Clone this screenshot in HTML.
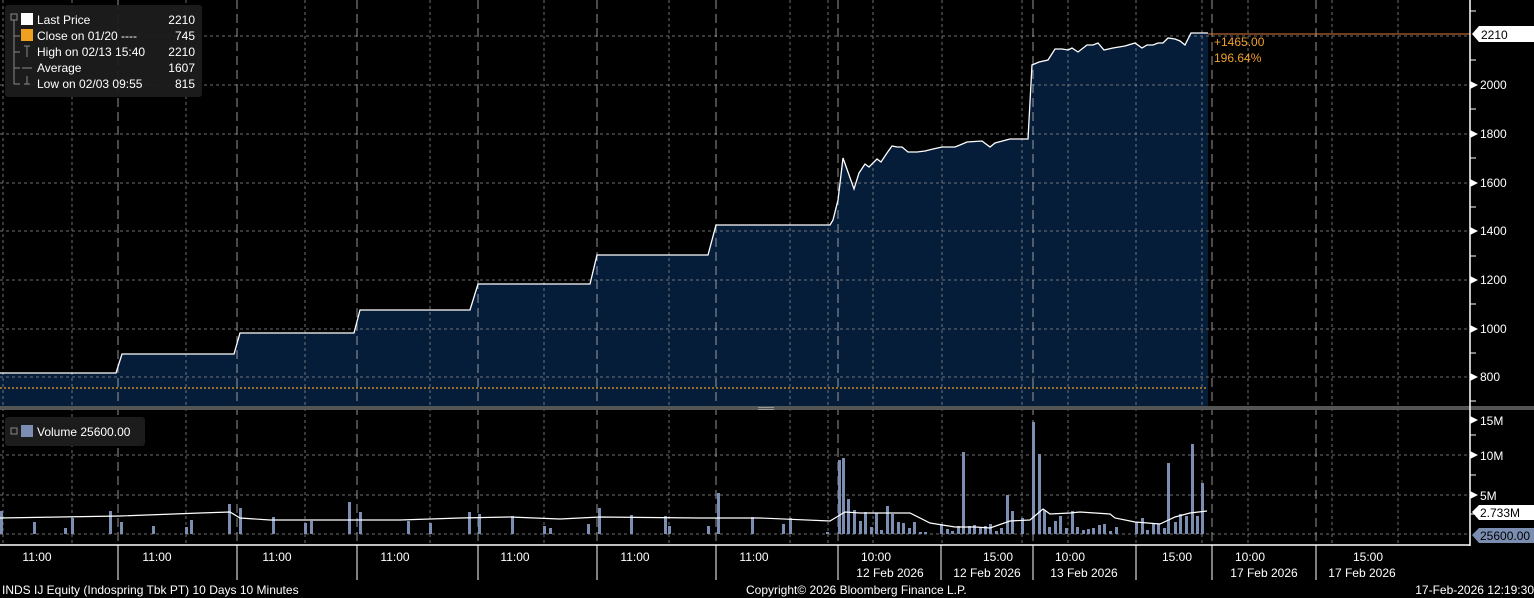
<!DOCTYPE html>
<html><head><meta charset="utf-8"><style>
html,body{margin:0;padding:0;background:#000;}
svg{display:block;font-family:"Liberation Sans",sans-serif;}
</style></head><body>
<svg width="1534" height="598" viewBox="0 0 1534 598" xmlns="http://www.w3.org/2000/svg">
<rect width="1534" height="598" fill="#000"/>
<!-- price fill -->
<path d="M0,373 L116,373 L122,354 L234,354 L240,333 L354,333 L360,310 L470,310 L478,284 L590,284 L597,255 L708,255 L716,225 L830,225 L833,220 L838,200 L843,158 L854,189 L859,173 L865,164 L869,167 L877,159 L881,162 L887,153 L892,146 L897,147 L902,147 L908,152 L917,152 L925,151 L933,149 L942,147 L955,147 L960,145 L967,142 L982,141 L990,147 L995,143 L1010,139 L1028,139 L1032,65 L1039,62 L1048,60 L1055,49 L1062,49 L1068,50 L1072,48 L1078,52 L1087,45 L1093,45 L1098,43 L1104,50 L1113,48 L1125,46 L1135,43 L1142,48 L1147,45 L1153,45 L1158,43 L1163,43 L1168,38 L1175,39 L1180,41 L1185,45 L1191,33 L1208,33 L1208,406 L0,406 Z" fill="#061d3a"/>
<!-- horizontal grid price -->
<g stroke="#8a8a8a" stroke-width="1" stroke-dasharray="3,3" opacity="0.8">
<line x1="0" y1="36" x2="1470" y2="36"/><line x1="0" y1="85" x2="1470" y2="85"/>
<line x1="0" y1="134" x2="1470" y2="134"/><line x1="0" y1="183" x2="1470" y2="183"/>
<line x1="0" y1="231" x2="1470" y2="231"/><line x1="0" y1="280" x2="1470" y2="280"/>
<line x1="0" y1="329" x2="1470" y2="329"/><line x1="0" y1="377" x2="1470" y2="377"/>
<line x1="0" y1="455" x2="1470" y2="455"/><line x1="0" y1="495" x2="1470" y2="495"/>
<line x1="0" y1="534" x2="1470" y2="534"/>
</g>
<!-- vertical grid -->
<g stroke="#8a8a8a" stroke-width="1" stroke-dasharray="3,3" opacity="0.8">
<line x1="3" y1="0" x2="3" y2="545"/><line x1="72" y1="0" x2="72" y2="545"/><line x1="186" y1="0" x2="186" y2="545"/>
<line x1="305" y1="0" x2="305" y2="545"/><line x1="430" y1="0" x2="430" y2="545"/><line x1="544" y1="0" x2="544" y2="545"/>
<line x1="669" y1="0" x2="669" y2="545"/><line x1="790" y1="0" x2="790" y2="545"/><line x1="828" y1="0" x2="828" y2="545"/>
<line x1="873" y1="0" x2="873" y2="545"/><line x1="942" y1="0" x2="942" y2="545"/><line x1="1022" y1="0" x2="1022" y2="545"/>
<line x1="1068" y1="0" x2="1068" y2="545"/><line x1="1136" y1="0" x2="1136" y2="545"/><line x1="1202" y1="0" x2="1202" y2="545"/>
<line x1="1248" y1="0" x2="1248" y2="545"/><line x1="1332" y1="0" x2="1332" y2="545"/><line x1="1398" y1="0" x2="1398" y2="545"/>
</g>
<g stroke="#bbbbbb" stroke-width="1" stroke-dasharray="9,5" opacity="0.8">
<line x1="118" y1="0" x2="118" y2="545"/><line x1="237" y1="0" x2="237" y2="545"/><line x1="357" y1="0" x2="357" y2="545"/>
<line x1="478" y1="0" x2="478" y2="545"/><line x1="597" y1="0" x2="597" y2="545"/><line x1="716" y1="0" x2="716" y2="545"/>
<line x1="838" y1="0" x2="838" y2="545"/><line x1="1033" y1="0" x2="1033" y2="545"/><line x1="1212" y1="0" x2="1212" y2="545"/>
<line x1="1316" y1="0" x2="1316" y2="545"/>
</g>
<!-- price line -->
<path d="M0,373 L116,373 L122,354 L234,354 L240,333 L354,333 L360,310 L470,310 L478,284 L590,284 L597,255 L708,255 L716,225 L830,225 L833,220 L838,200 L843,158 L854,189 L859,173 L865,164 L869,167 L877,159 L881,162 L887,153 L892,146 L897,147 L902,147 L908,152 L917,152 L925,151 L933,149 L942,147 L955,147 L960,145 L967,142 L982,141 L990,147 L995,143 L1010,139 L1028,139 L1032,65 L1039,62 L1048,60 L1055,49 L1062,49 L1068,50 L1072,48 L1078,52 L1087,45 L1093,45 L1098,43 L1104,50 L1113,48 L1125,46 L1135,43 L1142,48 L1147,45 L1153,45 L1158,43 L1163,43 L1168,38 L1175,39 L1180,41 L1185,45 L1191,33 L1208,33" fill="none" stroke="#fff" stroke-width="1.3"/>
<line x1="1208" y1="34" x2="1470" y2="34" stroke="#e07a3a" stroke-width="1"/>
<line x1="0" y1="388" x2="1208" y2="388" stroke="#f0a020" stroke-width="1.2" stroke-dasharray="2,2"/>
<text x="1214" y="46" fill="#f0a030" font-size="12">+1465.00</text>
<text x="1214" y="62" fill="#f0a030" font-size="12">196.64%</text>
<!-- separator -->
<rect x="0" y="406" width="1534" height="4" fill="#555"/>
<rect x="758" y="407" width="16" height="1" fill="#999"/><rect x="758" y="409" width="16" height="1" fill="#999"/>
<!-- volume bars -->
<g fill="#7b8db0">
<rect x="0" y="511" width="3" height="23"/><rect x="33" y="522" width="3" height="12"/><rect x="64" y="528" width="3" height="6"/><rect x="71" y="518" width="3" height="16"/>
<rect x="109" y="511" width="3" height="23"/><rect x="120" y="522" width="3" height="12"/><rect x="152" y="526" width="3" height="8"/><rect x="185" y="527" width="3" height="7"/>
<rect x="190" y="520" width="3" height="14"/><rect x="228" y="504" width="3" height="30"/><rect x="239" y="508" width="3" height="26"/><rect x="272" y="517" width="3" height="17"/>
<rect x="304" y="523" width="3" height="11"/><rect x="310" y="521" width="3" height="13"/><rect x="348" y="502" width="3" height="32"/><rect x="359" y="512" width="3" height="22"/>
<rect x="407" y="521" width="3" height="13"/><rect x="429" y="523" width="3" height="11"/><rect x="468" y="512" width="3" height="22"/><rect x="478" y="514" width="3" height="20"/>
<rect x="511" y="516" width="3" height="18"/><rect x="543" y="526" width="3" height="8"/><rect x="549" y="528" width="3" height="6"/><rect x="587" y="524" width="3" height="10"/>
<rect x="598" y="508" width="3" height="26"/><rect x="630" y="515" width="3" height="19"/><rect x="664" y="516" width="3" height="18"/><rect x="668" y="526" width="3" height="8"/>
<rect x="707" y="526" width="3" height="8"/><rect x="717" y="493" width="3" height="41"/><rect x="751" y="517" width="3" height="17"/><rect x="782" y="524" width="3" height="10"/>
<rect x="789" y="518" width="3" height="16"/><rect x="826" y="532" width="3" height="2"/><rect x="838" y="460" width="3" height="74"/><rect x="842" y="458" width="3" height="76"/>
<rect x="847" y="499" width="3" height="35"/><rect x="853" y="510" width="3" height="24"/><rect x="859" y="521" width="3" height="13"/><rect x="864" y="512" width="3" height="22"/>
<rect x="870" y="527" width="3" height="7"/><rect x="875" y="513" width="3" height="21"/><rect x="880" y="530" width="3" height="4"/><rect x="886" y="506" width="3" height="28"/>
<rect x="891" y="514" width="3" height="20"/><rect x="897" y="522" width="3" height="12"/><rect x="902" y="523" width="3" height="11"/><rect x="908" y="528" width="3" height="6"/>
<rect x="913" y="522" width="3" height="12"/><rect x="919" y="532" width="3" height="2"/><rect x="924" y="532" width="3" height="2"/><rect x="940" y="524" width="3" height="10"/>
<rect x="946" y="529" width="3" height="5"/><rect x="951" y="531" width="3" height="3"/><rect x="957" y="526" width="3" height="8"/><rect x="962" y="452" width="3" height="82"/>
<rect x="968" y="526" width="3" height="8"/><rect x="973" y="525" width="3" height="9"/><rect x="979" y="528" width="3" height="6"/><rect x="984" y="526" width="3" height="8"/>
<rect x="989" y="524" width="3" height="10"/><rect x="995" y="531" width="3" height="3"/><rect x="1000" y="528" width="3" height="6"/><rect x="1006" y="495" width="3" height="39"/>
<rect x="1011" y="511" width="3" height="23"/><rect x="1021" y="518" width="3" height="16"/><rect x="1032" y="422" width="3" height="112"/><rect x="1038" y="454" width="3" height="80"/>
<rect x="1043" y="510" width="3" height="24"/><rect x="1048" y="527" width="3" height="7"/><rect x="1054" y="521" width="3" height="13"/><rect x="1059" y="516" width="3" height="18"/>
<rect x="1065" y="528" width="3" height="6"/><rect x="1071" y="511" width="3" height="23"/><rect x="1076" y="527" width="3" height="7"/><rect x="1082" y="530" width="3" height="4"/>
<rect x="1087" y="529" width="3" height="5"/><rect x="1092" y="528" width="3" height="6"/><rect x="1098" y="525" width="3" height="9"/><rect x="1103" y="524" width="3" height="10"/>
<rect x="1109" y="531" width="3" height="3"/><rect x="1115" y="527" width="3" height="7"/><rect x="1135" y="522" width="3" height="12"/><rect x="1141" y="518" width="3" height="16"/>
<rect x="1146" y="530" width="3" height="4"/><rect x="1152" y="524" width="3" height="10"/><rect x="1157" y="524" width="3" height="10"/><rect x="1163" y="528" width="3" height="6"/>
<rect x="1167" y="463" width="3" height="71"/><rect x="1174" y="522" width="3" height="12"/><rect x="1179" y="514" width="3" height="20"/><rect x="1185" y="516" width="3" height="18"/>
<rect x="1191" y="444" width="3" height="90"/><rect x="1196" y="516" width="3" height="18"/><rect x="1201" y="483" width="3" height="51"/>
</g>
<!-- volume average -->
<path d="M0,518 L60,517 L120,516 L200,513 L230,512 L240,518 L270,520 L310,520 L400,520 L460,518 L510,517 L560,519 L600,517 L700,518 L760,518 L830,521 L845,512 L860,513 L910,513 L930,523 L955,527 L975,527 L990,528 L1010,521 L1030,520 L1043,509 L1050,514 L1070,513 L1080,512 L1110,514 L1115,518 L1135,522 L1160,524 L1175,517 L1190,513 L1207,511" fill="none" stroke="#fff" stroke-width="1.2"/>
<!-- axes -->
<line x1="1470" y1="0" x2="1470" y2="546" stroke="#fff" stroke-width="1.5"/>
<line x1="0" y1="545" x2="1470" y2="545" stroke="#fff" stroke-width="1.5"/>
<g stroke="#fff" stroke-width="1">
<line x1="1470" y1="11" x2="1476" y2="11"/><line x1="1470" y1="60" x2="1476" y2="60"/><line x1="1470" y1="109" x2="1476" y2="109"/>
<line x1="1470" y1="158" x2="1476" y2="158"/><line x1="1470" y1="207" x2="1476" y2="207"/><line x1="1470" y1="256" x2="1476" y2="256"/>
<line x1="1470" y1="304" x2="1476" y2="304"/><line x1="1470" y1="353" x2="1476" y2="353"/><line x1="1470" y1="401" x2="1476" y2="401"/>
<line x1="1470" y1="435" x2="1476" y2="435"/><line x1="1470" y1="475" x2="1476" y2="475"/><line x1="1470" y1="514" x2="1476" y2="514"/>
</g>
<g fill="#fff">
<polygon points="1470,81 1478,85 1470,89"/><polygon points="1470,130 1478,134 1470,138"/><polygon points="1470,179 1478,183 1470,187"/>
<polygon points="1470,227 1478,231 1470,235"/><polygon points="1470,276 1478,280 1470,284"/><polygon points="1470,325 1478,329 1470,333"/>
<polygon points="1470,373 1478,377 1470,381"/><polygon points="1470,416 1478,420 1470,424"/><polygon points="1470,451 1478,455 1470,459"/>
<polygon points="1470,491 1478,495 1470,499"/>
</g>
<g fill="#fff" font-size="12">
<text x="1480" y="89">2000</text><text x="1480" y="138">1800</text><text x="1480" y="187">1600</text>
<text x="1480" y="235">1400</text><text x="1480" y="284">1200</text><text x="1480" y="333">1000</text><text x="1480" y="381">800</text>
<text x="1480" y="425">15M</text><text x="1480" y="460">10M</text><text x="1480" y="500">5M</text>
</g>
<polygon points="1472,34 1479,26 1534,26 1534,42 1479,42" fill="#fff"/>
<text x="1481" y="39" fill="#000" font-size="12">2210</text>
<polygon points="1472,512 1479,505 1534,505 1534,520 1479,520" fill="#fff"/>
<text x="1480" y="517" fill="#000" font-size="12">2.733M</text>
<polygon points="1472,535 1479,528 1534,528 1534,543 1479,543" fill="#7b8db0"/>
<text x="1480" y="540" fill="#000" font-size="12">25600.00</text>
<!-- x axis ticks -->
<g stroke="#fff" stroke-width="1">
<line x1="118" y1="545" x2="118" y2="580"/><line x1="237" y1="545" x2="237" y2="580"/><line x1="357" y1="545" x2="357" y2="580"/>
<line x1="478" y1="545" x2="478" y2="580"/><line x1="597" y1="545" x2="597" y2="580"/><line x1="716" y1="545" x2="716" y2="580"/>
<line x1="838" y1="545" x2="838" y2="580"/><line x1="941" y1="545" x2="941" y2="580"/><line x1="1033" y1="545" x2="1033" y2="580"/>
<line x1="1136" y1="545" x2="1136" y2="580"/><line x1="1212" y1="545" x2="1212" y2="580"/><line x1="1316" y1="545" x2="1316" y2="580"/>
</g>
<g fill="#fff" font-size="12" text-anchor="middle">
<text x="37" y="561">11:00</text><text x="157" y="561">11:00</text><text x="277" y="561">11:00</text><text x="395" y="561">11:00</text>
<text x="515" y="561">11:00</text><text x="635" y="561">11:00</text><text x="754" y="561">11:00</text>
<text x="876" y="561">10:00</text><text x="890" y="577">12 Feb 2026</text>
<text x="998" y="561">15:00</text><text x="987" y="577">12 Feb 2026</text>
<text x="1070" y="561">10:00</text><text x="1084" y="577">13 Feb 2026</text>
<text x="1177" y="561">15:00</text>
<text x="1250" y="561">10:00</text><text x="1264" y="577">17 Feb 2026</text>
<text x="1368" y="561">15:00</text><text x="1362" y="577">17 Feb 2026</text>
</g>
<g fill="#fff" font-size="12">
<text x="2" y="594">INDS IJ Equity (Indospring Tbk PT) 10 Days 10 Minutes</text>
<text x="746" y="594">Copyright© 2026 Bloomberg Finance L.P.</text>
<text x="1534" y="594" text-anchor="end">17-Feb-2026 12:19:30</text>
</g>
<!-- legend -->
<rect x="5" y="5" width="197" height="92" rx="3" fill="#1c1c1c" opacity="0.95"/>
<g stroke="#888" stroke-width="1" fill="none">
<rect x="11" y="14" width="6" height="6"/><line x1="14" y1="20" x2="14" y2="84"/>
<line x1="14" y1="36" x2="20" y2="36"/><line x1="14" y1="52" x2="20" y2="52"/><line x1="14" y1="68" x2="20" y2="68"/><line x1="14" y1="84" x2="20" y2="84"/>
<line x1="24" y1="46" x2="30" y2="46"/><line x1="27" y1="46" x2="27" y2="57"/>
<line x1="22" y1="68" x2="32" y2="68"/><line x1="24" y1="84" x2="30" y2="84"/><line x1="27" y1="76" x2="27" y2="84"/>
</g>
<rect x="21" y="13" width="12" height="12" fill="#fff"/>
<rect x="21" y="29" width="12" height="12" fill="#f0a020"/>
<g fill="#fff" font-size="12">
<text x="37" y="24">Last Price</text><text x="195" y="24" text-anchor="end">2210</text>
<text x="37" y="40">Close on 01/20 ----</text><text x="195" y="40" text-anchor="end">745</text>
<text x="37" y="56">High on 02/13 15:40</text><text x="195" y="56" text-anchor="end">2210</text>
<text x="37" y="72">Average</text><text x="195" y="72" text-anchor="end">1607</text>
<text x="37" y="88">Low on 02/03 09:55</text><text x="195" y="88" text-anchor="end">815</text>
</g>
<rect x="5" y="417" width="140" height="29" rx="3" fill="#1c1c1c"/>
<rect x="11" y="428" width="6" height="6" fill="none" stroke="#888"/>
<rect x="21" y="425" width="12" height="12" fill="#7b8db0"/>
<text x="37" y="436" fill="#fff" font-size="12">Volume 25600.00</text>
</svg>
</body></html>
